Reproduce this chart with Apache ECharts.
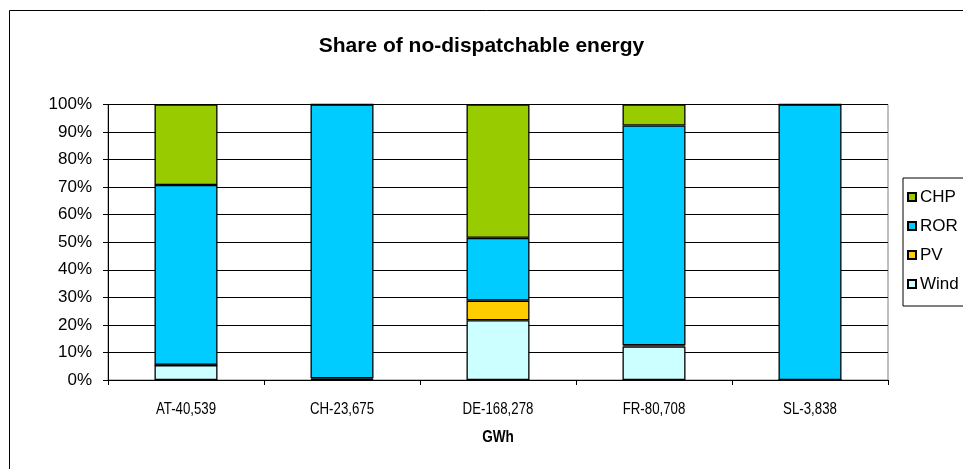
<!DOCTYPE html>
<html>
<head>
<meta charset="utf-8">
<script src="https://cdn.jsdelivr.net/npm/echarts@6/dist/echarts.min.js"></script>
<style>
  html, body { margin: 0; padding: 0; background: #fff; }
  #chart { width: 963px; height: 469px; }
</style>
</head>
<body>
<div id="chart"></div>
<script>
// Countries with their annual non-dispatchable output (GWh)
const categories = ['AT-40,539', 'CH-23,675', 'DE-168,278', 'FR-80,708', 'SL-3,838'];
const xAxisTitle = 'GWh';

// Percentage share of each source, stacked bottom to top
const windShare = [5.4, 0.2, 21.7, 12.2, 0];
const pvShare   = [0.1, 0.4, 7.1, 0.4, 0];
const rorShare  = [65.3, 99.4, 22.8, 79.8, 100];
const chpShare  = [29.2, 0, 48.4, 7.6, 0];

const seriesNames = ['Wind', 'PV', 'ROR', 'CHP'];
const seriesData = [windShare, pvShare, rorShare, chpShare];
const seriesColors = ['#CCFFFF', '#FFCC00', '#00CCFF', '#99CC00'];

const font = '"Liberation Sans", Arial, sans-serif';

const chart = echarts.init(document.getElementById('chart'), null, { renderer: 'canvas' });

const frame = {
  type: 'rect',
  id: 'frame',
  shape: { x: 9.5, y: 10.5, width: 1000, height: 500 },
  style: { fill: 'none', stroke: '#000', lineWidth: 1 },
  silent: true,
  z: -1
};

chart.setOption({
  animation: false,
  backgroundColor: '#fff',
  textStyle: { fontFamily: font },
  title: {
    text: 'Share of no-dispatchable energy',
    left: 'center',
    top: 31,
    textStyle: { fontFamily: font, fontSize: 21, fontWeight: 'bold', color: '#000' }
  },
  graphic: [frame],
  legend: {
    orient: 'vertical',
    left: 903,
    top: 178,
    data: ['CHP', 'ROR', 'PV', 'Wind'],
    icon: 'rect',
    itemWidth: 8,
    itemHeight: 8,
    itemGap: 11,
    padding: [10, 8, 13, 4],
    borderColor: '#000',
    borderWidth: 1,
    textStyle: { fontFamily: font, fontSize: 17, color: '#000', lineHeight: 18, padding: [0, 0, 0, -1] }
  },
  grid: {
    left: 108,
    right: 75,
    top: 104.5,
    bottom: 89,
    show: true,
    borderColor: '#808080',
    borderWidth: 1,
    containLabel: false
  },
  xAxis: {
    type: 'category',
    data: categories,
    boundaryGap: true,
    axisLine: { lineStyle: { color: '#000', width: 1 } },
    axisTick: { show: true, length: 5, lineStyle: { color: '#000' } },
    axisLabel: { show: false }
  },
  yAxis: {
    type: 'value',
    min: 0,
    max: 100,
    interval: 10,
    axisLine: { show: true, lineStyle: { color: '#000', width: 1 } },
    axisTick: { show: true, length: 5, lineStyle: { color: '#000' } },
    axisLabel: { fontFamily: font, fontSize: 17, color: '#000', margin: 16, formatter: '{value}%' },
    splitLine: { show: true, lineStyle: { color: '#000', width: 1 } }
  },
  series: seriesNames.map((name, i) => ({
    name: name,
    type: 'bar',
    stack: 'share',
    data: seriesData[i],
    barWidth: 63,
    itemStyle: { color: seriesColors[i], borderColor: '#000', borderWidth: 1.3 }
  }))
});

// Category labels and axis title use a horizontally condensed face,
// placed from the axis scale itself.
const baseY = chart.convertToPixel({ yAxisIndex: 0 }, 0);
const labelEls = categories.map((cat, i) => ({
  type: 'text',
  x: chart.convertToPixel({ xAxisIndex: 0 }, cat),
  y: baseY + 29,
  scaleX: 0.78,
  silent: true,
  style: {
    text: cat,
    fontFamily: font,
    fontSize: 17,
    fill: '#000',
    align: 'center',
    verticalAlign: 'middle'
  }
}));
const midX = (chart.convertToPixel({ xAxisIndex: 0 }, categories[0]) +
              chart.convertToPixel({ xAxisIndex: 0 }, categories[categories.length - 1])) / 2;
labelEls.push({
  type: 'text',
  x: midX,
  y: baseY + 57,
  scaleX: 0.8,
  silent: true,
  style: {
    text: xAxisTitle,
    fontFamily: font,
    fontSize: 17,
    fontWeight: 'bold',
    fill: '#000',
    align: 'center',
    verticalAlign: 'middle'
  }
});
chart.setOption({ graphic: [frame].concat(labelEls) });
</script>
</body>
</html>
